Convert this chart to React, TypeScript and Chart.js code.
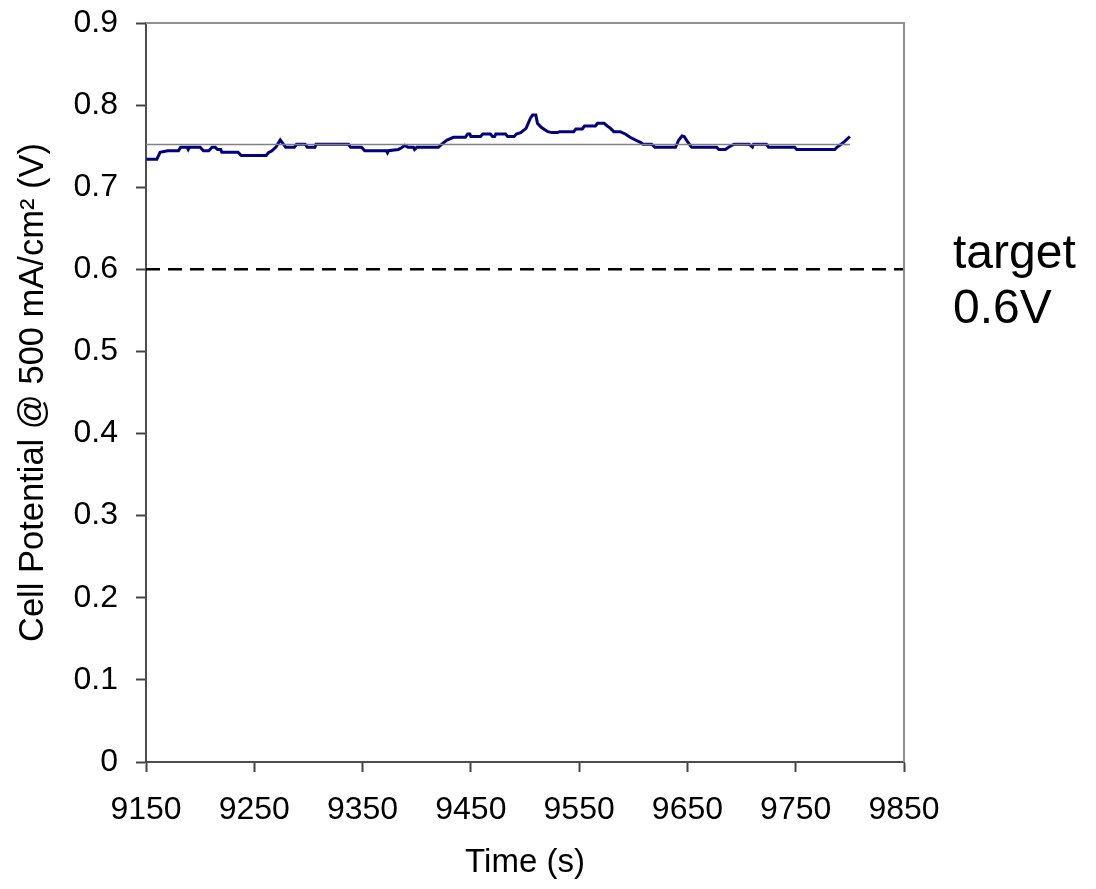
import { useEffect, useRef } from 'react';
import { Chart, registerables } from 'chart.js';

Chart.register(...registerables);

// Measured cell potential (V) vs time (s)
const TIME_S = [
  9150.5, 9160, 9163, 9170, 9180, 9182, 9188, 9189, 9190, 9200, 9203, 9208, 9211, 9214, 9216, 9219,
  9220, 9235, 9238, 9261, 9263, 9266, 9270, 9274, 9276, 9279, 9287, 9289, 9297, 9299, 9306, 9307,
  9337, 9339, 9349, 9352, 9372, 9373, 9374, 9383, 9386, 9389, 9392, 9397, 9398, 9400, 9420, 9424,
  9428, 9434, 9445, 9447, 9449, 9450, 9459, 9461, 9468, 9470, 9472, 9473, 9482, 9484, 9490, 9492,
  9496, 9501, 9505, 9507, 9510, 9511.5, 9515, 9521, 9525, 9530, 9532, 9545, 9547, 9553, 9555, 9565,
  9567, 9573, 9576, 9579, 9582, 9588, 9593, 9597, 9602, 9607, 9609, 9617, 9620, 9639, 9642, 9645,
  9647, 9650, 9654, 9677, 9679, 9685, 9688, 9693, 9707, 9710, 9711, 9723, 9725, 9749, 9751, 9786,
  9788, 9792, 9795, 9800,
];
const CELL_V = [
  0.734, 0.734, 0.7425, 0.7445, 0.7445, 0.7486, 0.7486, 0.746, 0.7486, 0.7486, 0.7445, 0.7445, 0.7486, 0.7486, 0.746, 0.746,
  0.7425, 0.7425, 0.7385, 0.7385, 0.742, 0.744, 0.749, 0.7575, 0.754, 0.7486, 0.7486, 0.7523, 0.7523, 0.7486, 0.7486, 0.7523,
  0.7523, 0.7486, 0.7486, 0.7445, 0.7445, 0.742, 0.7445, 0.746, 0.748, 0.751, 0.7486, 0.7486, 0.746, 0.7486, 0.7486, 0.7535,
  0.7575, 0.7608, 0.7608, 0.7648, 0.7648, 0.7618, 0.7618, 0.7648, 0.7648, 0.7618, 0.7618, 0.7648, 0.7648, 0.7618, 0.7618, 0.7648,
  0.7665, 0.7717, 0.784, 0.788, 0.788, 0.778, 0.773, 0.7677, 0.7665, 0.7665, 0.7677, 0.7677, 0.771, 0.771, 0.7746, 0.7746,
  0.7779, 0.7779, 0.7746, 0.7717, 0.7677, 0.7677, 0.7645, 0.7608, 0.7575, 0.7543, 0.7523, 0.7523, 0.7486, 0.7486, 0.7575, 0.7624,
  0.7618, 0.7555, 0.7486, 0.7486, 0.746, 0.746, 0.7486, 0.7523, 0.7523, 0.749, 0.7523, 0.7523, 0.7486, 0.7486, 0.746, 0.746,
  0.7486, 0.7523, 0.7555, 0.7618,
];

// Average line
const AVG_T = [9150, 9800];
const AVG_V = [0.752, 0.752];

// Target line
const TARGET_T = [9150, 9850];
const TARGET_V = 0.6;
const TARGET_LABEL = ['target', '0.6V'];

const X_TICKS = [9150, 9250, 9350, 9450, 9550, 9650, 9750, 9850];
const Y_TICKS = [0, 0.1, 0.2, 0.3, 0.4, 0.5, 0.6, 0.7, 0.8, 0.9];

const X_TITLE = 'Time (s)';
const Y_TITLE = 'Cell Potential @ 500 mA/cm\u00B2 (V)';

const FONT = "'Liberation Sans', Arial, Helvetica, sans-serif";

const framePlugin = {
  id: 'frameAndLabel',
  afterDraw(chart: any) {
    const { ctx, chartArea } = chart;
    const { top, right, bottom, left } = chartArea;
    ctx.save();
    ctx.strokeStyle = '#909090';
    ctx.lineWidth = 2;
    ctx.beginPath();
    ctx.moveTo(left, top);
    ctx.lineTo(right, top);
    ctx.lineTo(right, bottom);
    ctx.stroke();

    const yPix = chart.scales.y.getPixelForValue(TARGET_V);
    ctx.fillStyle = '#000';
    ctx.font = `48px ${FONT}`;
    ctx.textAlign = 'left';
    ctx.textBaseline = 'alphabetic';
    ctx.fillText(TARGET_LABEL[0], right + 49, yPix - 1);
    ctx.fillText(TARGET_LABEL[1], right + 49, yPix + 54);
    ctx.restore();
  },
};

export default function App() {
  const ref = useRef<HTMLCanvasElement | null>(null);

  useEffect(() => {
    if (!ref.current) return;
    const chart = new Chart(ref.current, {
      type: 'line',
      data: {
        datasets: [
          {
            label: 'target',
            data: TARGET_T.map((t) => ({ x: t, y: TARGET_V })),
            borderColor: '#000000',
            borderWidth: 2.5,
            borderDash: [14, 8],
            pointRadius: 0,
            fill: false,
          },
          {
            label: 'average',
            data: AVG_T.map((t, i) => ({ x: t, y: AVG_V[i] })),
            borderColor: '#808080',
            borderWidth: 1.5,
            pointRadius: 0,
            fill: false,
          },
          {
            label: 'cell potential',
            data: TIME_S.map((t, i) => ({ x: t, y: CELL_V[i] })),
            borderColor: '#000080',
            borderWidth: 3,
            pointRadius: 0,
            fill: false,
            tension: 0,
          },
        ],
      },
      options: {
        animation: false,
        responsive: false,
        devicePixelRatio: 1,
        layout: { padding: { top: 23, right: 192, left: 0, bottom: 0 } },
        plugins: {
          legend: { display: false },
          tooltip: { enabled: false },
        },
        scales: {
          x: {
            type: 'linear',
            position: 'bottom',
            min: 9150,
            max: 9850,
            afterBuildTicks: (s: any) => {
              s.ticks = X_TICKS.map((v) => ({ value: v }));
            },
            afterFit: (s: any) => {
              s.height = 127;
            },
            grid: {
              display: true,
              drawOnChartArea: false,
              drawTicks: true,
              tickLength: 10,
              tickColor: '#444444',
              tickWidth: 2,
            },
            border: { display: true, color: '#4d4d4d', width: 2 },
            ticks: {
              color: '#000',
              padding: 19,
              autoSkip: false,
              maxRotation: 0,
              font: { family: FONT, size: 32 },
              callback: (v: any) => String(v),
            },
            title: {
              display: true,
              text: X_TITLE,
              color: '#000',
              font: { family: FONT, size: 33 },
              padding: { top: 0, bottom: 6 },
            },
          },
          y: {
            type: 'linear',
            min: 0,
            max: 0.9,
            afterBuildTicks: (s: any) => {
              s.ticks = Y_TICKS.map((v) => ({ value: v }));
            },
            afterFit: (s: any) => {
              s.width = 146;
              s.paddingTop = 0;
              s.paddingBottom = 0;
            },
            grid: {
              display: true,
              drawOnChartArea: false,
              drawTicks: true,
              tickLength: 10,
              tickColor: '#444444',
              tickWidth: 2,
            },
            border: { display: true, color: '#4d4d4d', width: 2 },
            ticks: {
              color: '#000',
              padding: 18,
              autoSkip: false,
              font: { family: FONT, size: 32 },
              callback: (v: any) => String(v),
            },
            title: {
              display: true,
              text: Y_TITLE,
              color: '#000',
              font: { family: FONT, size: 34.5 },
              padding: { top: 13, bottom: 0 },
            },
          },
        },
      },
      plugins: [framePlugin],
    });
    return () => chart.destroy();
  }, []);

  return (
    <div style={{ position: 'fixed', left: 0, top: 0, width: 1096, height: 889, background: '#fff' }}>
      <canvas ref={ref} width={1096} height={889} style={{ display: 'block', width: 1096, height: 889 }} />
    </div>
  );
}
